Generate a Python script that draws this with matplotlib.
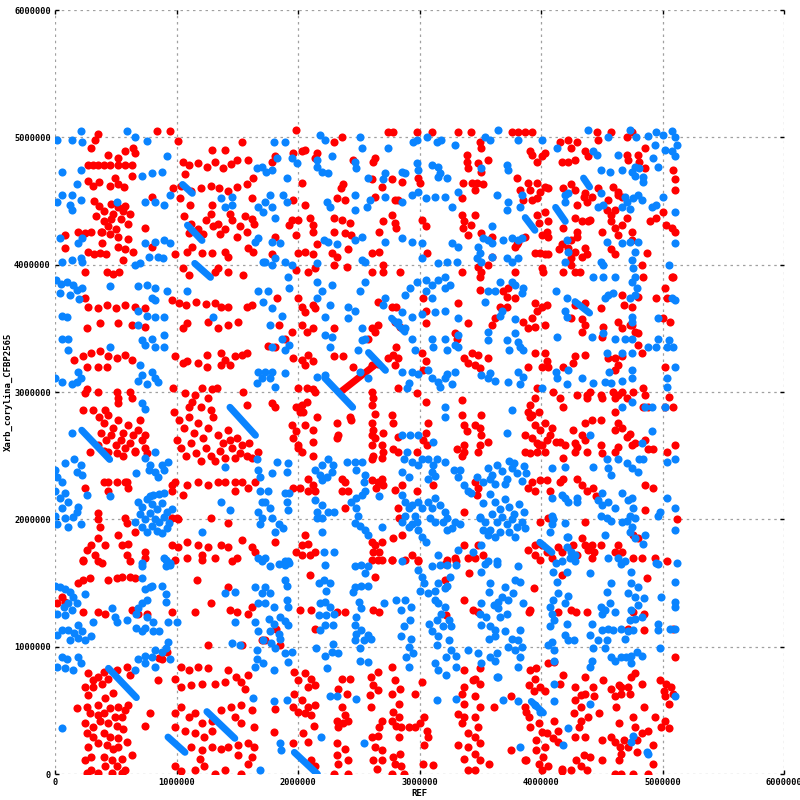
import matplotlib
matplotlib.use("Agg")
import matplotlib.pyplot as plt
import numpy as np

UNIT = 10000  # all coordinates below are in units of 10 kb

red_top = [
(35,503),(33,498),(30,492),(64,492),(66,488),(58,489),(84,505),(95,505),(101,497),
(27,478),(31,478),(35,478),(40,478),(45,478),(52,478),(58,478),(63,478),(44,486),(52,484),
(27,466),(31,462),(36,465),(45,462),(52,463),(57,461),(63,470),(49,468),
(32,450),(36,446),(40,442),(46,448),(52,445),(58,446),(62,440),(34,438),(40,434),(46,436),(54,436),(60,432),(44,430),(50,428),(38,426),(56,442),(48,440),
(8,423),(8,413),(19,426),(25,425),(30,426),(39,426),(45,424),(52,422),(60,420),
(27,410),(32,408),(37,409),(42,408),(52,414),(58,412),(64,410),(56,404),(39,417),(80,414),(74,429),(80,453),
(129,490),(140,490),(154,496),(105,481),(110,478),(118,480),(125,477),(132,481),(138,476),(145,479),(150,482),(159,482),(107,471),
(97,460),(104,462),(112,458),(120,460),(128,462),(135,460),(142,458),(150,461),(158,463),(163,468),
(103,452),(111,447),(129,447),(162,452),
(106,438),(112,432),(118,428),(124,435),(128,440),(134,432),(140,428),(146,435),(152,430),(158,426),(164,432),(110,425),(122,424),(136,424),(150,422),(162,436),(130,430),(144,440),(156,438),
(121,409),(129,409),(109,410),(113,414),(99,408),(140,410),(142,406),(159,413),(163,410),
(105,397),(110,392),(132,394),(142,394),(155,392),(134,397),
(25,394),(43,394),(48,393),(53,394),(27,367),(35,366),(43,368),(50,366),(58,368),(66,367),(74,366),(25,374),(26,350),(37,354),(52,354),(63,353),(74,351),
(96,372),(102,370),(108,368),(116,371),(124,369),(132,370),(137,367),(142,367),(158,367),(162,368),(109,354),(126,355),(134,350),(142,353),(151,355),(105,350),
(198,506),(203,489),(196,488),(181,485),(179,481),(230,496),(236,500),(274,504),(278,504),(298,504),(310,504),(332,504),(342,504),(216,488),(214,484),(206,490),(245,482),(262,481),(263,484),(339,486),(339,481),(340,476),
(203,464),(196,451),(206,447),(237,463),(235,460),(232,452),(239,451),(261,467),(269,461),(263,453),(277,467),(286,465),(299,468),(300,464),(280,451),(282,451),(335,452),(336,464),(343,464),
(195,435),(193,431),(200,435),(210,437),(212,431),(212,426),(198,423),(230,437),(236,435),(243,433),(230,426),(239,425),(244,423),(270,434),(267,426),(277,439),(280,433),(281,429),(302,435),(305,430),(335,439),(337,434),(336,429),(342,431),(340,423),(181,422),
(200,409),(206,410),(212,408),(179,408),(228,409),(232,406),(216,416),(241,412),(261,409),(267,410),(306,409),
(230,400),(240,398),(261,394),(270,400),(270,394),(284,394),(198,396),(208,394),(214,397),(335,394),
(183,374),(200,374),(203,367),(212,368),(214,366),(206,363),(266,371),(277,367),(281,367),(303,374),(305,364),(332,370),(340,354),
(184,353),(195,347),(203,353),(212,350),(207,347),(189,342),(230,350),(261,350),(266,353),(263,347),(258,342),(280,355),(284,351),(305,354),(331,342),(329,346),
(350,496),(351,492),(376,504),(381,504),(387,504),(393,504),(416,496),(422,498),(425,492),(430,496),(446,504),(447,498),(458,504),(471,500),(475,504),(486,492),
(393,486),(397,481),(401,485),(391,489),(403,488),(348,480),(356,482),(351,473),(417,481),(422,481),(428,482),(436,489),(439,485),(471,486),(472,482),(480,486),(481,481),(486,476),(509,474),(510,467),(510,459),
(380,468),(383,459),(389,464),(397,464),(403,461),(406,460),(391,459),(399,457),(347,464),(352,463),(346,459),
(418,460),(425,463),(428,459),(436,456),(442,453),(447,460),(459,461),(463,457),(463,455),(467,453),(385,451),(393,451),(397,452),
(430,447),(438,449),(435,453),(455,451),(454,443),(458,439),(461,443),
(397,439),(403,441),(406,434),(398,433),(405,426),(401,423),(406,422),(428,437),(434,434),(439,434),(440,435),
(458,434),(461,429),(467,431),(463,423),(471,437),(475,426),(475,419),(490,434),(495,437),(500,441),(503,431),(508,429),(510,426),(346,439),(351,425),(360,422),
(381,418),(387,422),(379,414),(380,416),(418,429),(430,426),(430,422),(425,419),(417,416),(422,413),(415,412),(450,426),
(395,409),(399,409),(403,408),(406,408),(436,413),(438,408),(428,410),(425,405),(434,406),(458,412),(461,408),(487,409),
(348,398),(351,394),(350,390),(356,400),(360,406),(379,394),(401,397),(402,394),(425,400),(428,394),(432,394),(418,394),(483,400),(484,390),(508,390),
(350,380),(369,379),(372,375),(373,382),(379,374),(362,358),(366,367),(372,367),(360,353),(395,370),(401,367),(405,368),(397,364),(428,368),(436,370),(449,366),
(467,376),(468,368),(475,367),(480,375),(475,353),(477,347),(495,374),(502,382),(504,374),(509,390),
(385,355),(389,350),(395,351),(403,353),(393,358),(425,358),(434,357),(436,353),(434,347),(463,355),(467,350),(473,353),(480,346),(451,351),(450,343),(500,358),(506,355),
]

red_mid = [
(16,325),(23,328),(30,331),(37,332),(44,328),(51,327),(58,329),(63,325),(35,320),(43,320),(26,320),
(99,328),(105,323),(109,324),(118,323),(125,329),(125,320),(137,331),(140,325),(148,328),(154,329),(158,331),(137,321),(144,321),
(26,302),(25,299),(35,300),(51,300),(52,295),(52,291),(62,300),(63,295),(23,286),(31,286),(41,286),
(36,280),(40,276),(44,282),(48,272),(52,278),(56,268),(60,274),(64,266),(68,270),(72,262),(38,268),(42,262),(50,258),(58,256),(62,260),(66,254),(74,256),(46,266),(54,262),(40,254),(56,250),(70,278),
(29,253),(35,258),(44,253),(51,252),(66,253),(74,266),(76,252),
(40,229),(44,229),(51,229),(58,229),(60,225),(59,229),(44,222),(25,225),
(97,303),(107,299),(115,298),(121,303),(129,302),(133,303),(126,295),(113,292),(155,300),(158,290),
(98,284),(102,278),(106,272),(110,280),(114,268),(118,276),(122,264),(126,272),(130,280),(134,266),(138,260),(142,270),(146,256),(150,264),(154,258),(158,250),(100,262),(104,256),(108,250),(112,260),(116,252),(120,246),(124,256),(128,250),(132,246),(136,254),(140,248),(144,262),(148,248),(152,252),(160,260),(162,248),(110,288),(120,288),(128,286),(167,253),
(96,222),(105,219),(109,227),(118,229),(126,227),(134,229),(140,229),(148,229),(154,229),(159,225),(148,222),(165,229),(99,229),(96,227),
(35,205),(35,200),(37,194),(58,201),(59,197),(100,201),(128,201),(142,197),(96,201),(101,200),
(35,185),(30,180),(26,176),(41,180),(33,172),(39,166),(52,188),(55,180),(60,181),(59,172),(66,190),(23,168),(74,174),(74,170),
(96,180),(101,178),(109,182),(118,180),(126,178),(137,180),(142,178),(154,184),(162,178),(150,170),(121,172),(132,170),(109,170),(165,174),
(181,335),(175,336),(196,327),(203,325),(208,329),(212,324),(206,321),(230,328),(237,328),(245,320),
(261,321),(266,322),(274,327),(278,329),(281,335),(282,327),(280,321),(302,331),(305,324),(303,317),(337,327),(340,323),(343,331),
(200,303),(207,303),(212,302),(214,300),(179,291),(181,288),(198,288),(203,290),(207,292),(204,284),(202,284),(216,280),
(195,274),(198,269),(196,264),(200,258),(203,253),(212,250),(206,274),(212,270),(212,261),(200,256),
(232,276),(233,266),(232,264),(243,280),(244,278),
(261,300),(262,295),(261,290),(263,283),(261,276),(262,270),(261,266),(263,264),(261,258),(262,250),(261,247),
(270,268),(269,258),(270,253),(269,248),(277,282),(278,276),(282,265),(278,255),(282,253),(282,303),(298,299),(305,292),
(307,276),(305,268),(303,262),(306,258),(298,253),(335,294),(335,282),(337,274),(339,269),(337,258),(331,255),(337,253),(335,250),
(208,232),(212,227),(208,222),(202,225),(196,225),(214,222),(236,232),(239,229),(241,222),(236,222),
(261,231),(266,229),(270,227),(264,225),(269,232),(280,223),(286,227),(298,222),(239,209),(282,209),(283,201),(311,227),(337,206),
(181,182),(206,188),(208,181),(203,180),(198,174),(203,172),(210,172),(214,174),
(261,182),(263,180),(269,182),(262,174),(267,174),(261,168),(269,168),(277,168),(278,185),(286,188),(294,172),(299,167),(323,168),(329,170),(337,180),(340,170),
(348,329),(356,327),(346,321),(350,319),(395,331),(403,331),(405,324),(401,320),(406,320),(389,320),(418,320),(428,328),(436,329),(426,323),
(455,327),(461,327),(463,321),(461,317),(467,328),(480,337),(483,331),(502,320),
(397,303),(395,295),(391,290),(389,284),(393,282),(398,284),(410,300),(416,295),(418,288),(430,298),(438,298),(438,295),(440,300),(449,298),(450,295),
(459,300),(461,295),(463,298),(467,300),(471,295),(476,300),(484,303),(486,298),(484,288),(488,288),(505,296),(509,288),(502,288),(351,282),
(391,280),(395,274),(399,270),(403,276),(407,266),(393,264),(397,260),(401,258),(405,262),(409,272),
(346,274),(350,272),(351,266),(356,261),(350,258),(348,253),(387,266),(387,253),(391,252),(397,253),(403,253),(398,258),
(412,261),(416,261),(420,258),(418,248),(426,270),(428,260),(428,253),(430,257),(436,262),(434,266),(438,253),(436,276),(442,278),(449,278),(449,258),(450,252),
(461,284),(463,276),(461,270),(467,272),(471,265),(473,267),(475,258),(463,257),(461,253),(477,260),(486,262),(488,255),(492,255),(504,253),(510,258),
(393,229),(399,231),(389,225),(395,222),(405,231),(416,229),(418,232),(407,222),(430,232),(434,227),(438,222),(443,225),(445,218),(346,229),(348,225),(347,219),(486,227),(492,225),(486,207),
(399,198),(406,201),(436,198),(476,188),(480,185),(512,200),
(389,176),(395,180),(401,180),(395,172),(405,174),(399,168),(409,170),(414,178),(417,174),
(426,180),(434,185),(436,180),(439,176),(442,180),(444,174),(430,172),(442,170),(449,180),
(463,180),(461,174),(467,174),(476,170),(483,170),(494,170),(504,167),(348,180),(352,172),(346,170),
]

red_bot = [
(6,139),(8,135),(2,134),
(23,167),(35,167),(62,167),(99,168),(121,168),(146,167),
(19,150),(23,152),(29,154),(44,152),(51,154),(55,155),(62,155),(66,154),(117,152),
(35,127),(41,126),(23,127),(63,129),(68,126),(76,126),(96,127),(128,134),(115,127),
(142,147),(144,129),(150,127),(159,126),(162,131),(92,96),(86,91),(88,90),(126,101),(154,101),(170,105),
(27,79),(31,74),(35,76),(40,80),(44,75),(39,71),(31,68),(25,68),(27,62),(41,60),(48,64),(51,82),(59,84),(62,78),
(18,52),(26,53),(29,48),(35,54),(35,46),(40,48),(45,52),(52,53),(58,50),(60,54),(55,45),(49,45),(25,40),(31,37),(37,42),(44,40),(51,38),(56,35),(26,32),(31,29),(40,32),(45,29),(52,28),(27,21),(35,24),(43,23),(48,20),(52,21),(59,25),(25,11),(30,13),(40,13),(47,11),(55,12),(63,15),(30,3),(41,6),(51,6),(58,3),(26,1),(35,1),(47,1),(55,1),(78,48),(74,38),(85,74),
(104,84),(110,82),(118,84),(126,83),(142,82),(149,76),(159,78),(99,75),(104,68),(112,70),(121,71),(132,71),(140,72),(153,72),(156,67),(104,53),(99,48),(110,45),(115,48),(121,40),(129,42),(137,50),(145,53),(153,54),(162,50),(164,37),(153,40),(148,45),(99,37),(107,34),(115,32),(123,29),(129,34),(142,21),(151,23),(159,24),(164,21),(112,21),(121,19),(129,21),(137,20),(151,15),(162,13),(99,6),(104,2),(115,3),(123,6),(132,0),(140,3),(153,0),(159,8),(119,12),
(210,156),(263,155),(202,129),(211,129),(232,127),(239,127),(262,129),(267,127),(214,114),(182,114),(185,101),(173,105),(321,152),(322,125),(337,137),(344,129),(341,158),(266,168),(277,168),(288,168),(299,168),(321,165),(330,167),
(197,80),(206,79),(211,75),(200,74),(208,68),(214,70),(197,63),(203,58),(196,53),(200,49),(208,53),(214,54),(206,48),(211,46),
(236,75),(243,75),(233,67),(240,63),(236,53),(239,46),(232,42),(237,40),(233,37),(241,42),
(260,76),(266,80),(262,70),(259,62),(266,66),(260,53),(269,42),(267,37),(266,30),(261,29),(263,21),(269,19),(262,11),(269,11),(265,4),
(277,84),(280,74),(284,67),(277,63),(283,55),(278,49),(283,45),(277,42),(281,38),(285,37),(291,37),(296,37),(300,40),(304,45),(306,34),(307,29),(283,29),(278,13),(284,16),(280,8),(285,6),(277,0),(287,0),
(302,72),(296,63),(232,24),(239,20),(232,15),(233,8),(241,11),(230,0),(241,0),
(180,33),(181,51),(213,38),(208,25),(204,32),(196,24),(211,11),(214,6),(303,8),(311,7),(304,23),
(337,68),(335,63),(337,55),(332,47),(337,45),(335,40),(340,32),(332,23),(340,21),(337,12),(340,3),(344,74),(337,82),
(417,156),(394,146),(348,127),(390,127),(391,129),(414,127),(425,129),(429,127),(438,127),(476,127),(485,126),(487,154),(485,113),(509,114),(472,114),(510,92),
(350,83),(346,75),(350,71),(346,61),(350,53),(346,45),(348,37),(346,29),(350,24),(346,16),(350,11),(346,3),(357,8),(361,53),
(391,82),(396,83),(395,75),(390,70),(399,68),(403,65),(394,65),(406,87),(411,88),(418,78),(416,71),(387,53),(390,45),(391,37),(398,40),(401,33),(396,27),(405,32),(411,42),(414,34),(410,28),(414,25),(396,19),(403,21),(402,13),(398,8),(401,3),(387,11),(406,6),(417,4),(375,61),(375,19),(388,49),
(428,68),(436,76),(443,68),(428,58),(433,53),(427,48),(433,42),(439,45),(444,61),(431,37),(428,29),(436,29),(440,13),(435,15),(429,11),(433,6),(425,3),(438,3),(450,11),(450,27),(448,48),(464,11),(461,0),(466,0),(476,0),(458,29),(461,25),(468,27),(464,40),(462,53),(461,61),(458,67),(464,70),(472,68),(473,63),(474,76),(477,79),(483,71),(485,53),(488,34),(476,45),(477,37),(483,32),(492,23),(494,45),(498,74),(501,65),(503,71),(507,68),(509,63),(502,61),(505,55),(502,42),(505,36),(499,37),(492,8),(488,0),(466,16),(465,21),(472,21),(479,17),(479,27),(466,63),(466,68),(451,74),(436,63),(433,62),(417,2),(388,11),
]

blue_top = [
(21,505),(59,505),(2,498),(14,498),(22,496),(66,500),(76,497),(6,473),(21,474),(72,470),(80,472),(88,473),(92,485),
(18,463),(14,455),(6,455),(2,449),(12,447),(14,443),(21,451),(51,449),(4,421),(22,421),(19,417),
(74,417),(82,418),(90,419),(95,417),(6,402),(14,404),(21,405),(22,402),(66,400),(70,401),(77,406),(85,406),(89,405),(74,449),(82,449),(90,447),(95,455),
(166,476),(170,477),(137,452),(146,453),(146,447),(140,445),(167,445),(171,441),(165,418),(167,421),(171,402),
(1,388),(5,385),(10,386),(15,384),(18,380),(22,382),(4,378),(12,376),(20,373),(6,360),(10,359),(6,342),(11,342),(45,383),
(68,383),(76,384),(82,382),(80,374),(82,372),(92,379),(68,364),(76,360),(82,359),(90,359),(68,353),(72,341),(80,342),(90,345),
(109,379),(130,359),(167,379),(171,371),
(180,496),(189,496),(218,502),(222,498),(251,500),(253,492),(274,492),(295,496),(298,498),(306,500),(314,496),(318,498),(329,494),
(183,484),(195,484),(199,480),(179,474),(174,473),(216,482),(216,477),(220,473),(225,472),(228,485),(247,481),(248,476),(191,468),
(258,468),(270,467),(272,472),(286,473),(288,472),(298,480),(299,474),(310,478),(315,477),(317,472),(315,469),(323,468),
(177,455),(173,449),(179,445),(181,437),(188,455),(191,449),(224,449),(226,445),(247,455),(247,443),(257,445),(259,451),
(272,453),(286,449),(294,455),(299,457),(305,452),(313,453),(321,453),(327,445),(332,457),
(221,419),(225,418),(232,416),(247,419),(253,422),(272,418),(286,421),(294,418),(302,417),(327,417),(332,414),
(179,418),(185,417),(173,402),(181,405),(189,402),(195,400),(216,401),(253,404),(255,402),(302,405),(315,401),(323,402),(331,402),
(179,400),(192,390),(193,382),(216,386),(220,379),(228,384),(216,374),(226,368),(222,359),(175,379),(179,366),(187,360),(177,353),
(255,386),(251,379),(241,367),(247,364),(241,358),(253,350),(255,342),(272,374),(270,368),
(288,376),(292,382),(298,386),(305,388),(310,384),(315,388),(321,390),(305,379),(310,374),(321,382),(325,384),
(286,363),(294,359),(302,361),(313,363),(321,364),(332,358),(282,355),(288,350),(294,342),(310,342),(321,342),(332,345),
(187,342),(222,345),(228,343),(253,341),
(365,506),(381,498),(401,498),(413,492),(354,500),(358,498),(351,476),(439,506),(455,500),
(473,506),(478,500),(488,501),(495,504),(500,502),(508,505),(510,500),(512,494),(494,494),(508,489),(510,485),(502,490),(443,489),(446,486),(463,486),
(372,478),(373,474),(477,477),(481,476),(484,469),(477,470),(475,473),(484,465),(496,477),(492,484),(449,474),(457,473),(467,474),
(364,455),(373,449),(372,443),(384,455),(383,445),(420,455),(422,456),(420,449),(449,456),(451,447),(447,445),
(469,453),(471,449),(476,452),(480,455),(467,445),(473,444),(483,451),(491,445),(495,447),(500,453),(510,441),
(360,430),(352,421),(356,419),(360,417),(369,419),(376,421),(381,419),(384,421),(348,414),(350,409),(347,405),(351,402),(360,406),
(421,419),(422,410),(420,402),(454,418),(467,417),(473,418),(480,418),(477,410),(510,417),(372,405),(376,402),(381,405),(449,402),(451,400),(475,404),(476,397),(505,400),
(366,386),(376,386),(379,384),(356,379),(362,379),(354,371),(385,382),(384,378),
(443,390),(451,390),(461,390),(475,386),(477,390),(479,382),(473,374),(477,376),(455,376),(453,374),(459,378),
(412,379),(421,374),(508,374),(510,372),(368,364),(366,360),(379,357),(379,346),(381,339),(420,364),(421,359),(475,359),(475,355),(496,358),
(356,347),(356,341),(372,341),(413,343),(442,343),(451,346),(461,342),(469,342),(475,342),(496,342),(505,341),
]

blue_mid = [
(11,333),(45,335),(74,337),(82,335),(90,335),(0,311),(6,308),(14,306),(18,308),(21,311),(19,316),
(70,321),(72,313),(68,309),(76,306),(82,311),(85,308),(80,316),(72,291),(74,287),(167,316),(170,311),(166,307),(14,268),
(8,244),(0,239),(2,233),(6,229),(16,247),(21,243),(18,237),(22,235),
(74,248),(82,253),(78,243),(82,237),(88,243),(93,245),(85,233),(77,239),(90,239),(67,236),
(0,222),(4,217),(8,221),(11,214),(6,209),(0,203),(8,201),(15,202),(18,206),(2,196),(11,194),(21,196),(19,210),(26,219),(45,218),
(68,214),(72,210),(76,216),(80,212),(84,208),(88,213),(92,206),(70,204),(74,200),(78,205),(82,200),(86,198),(90,202),(94,197),(72,194),(76,190),(80,195),(84,191),(88,189),(92,193),(78,218),(86,220),(66,198),(96,208),
(81,219),(90,221),(121,190),(137,214),(144,207),(169,222),(170,214),(167,206),(170,201),(169,196),(166,247),(167,239),(169,233),(140,241),(90,170),(95,166),(72,166),(167,170),(170,167),
(179,335),(189,333),(193,337),(226,335),(249,333),(296,333),(311,335),(323,333),(332,335),(329,337),
(173,316),(179,316),(177,311),(181,304),(189,315),(216,312),(222,313),(251,316),(258,311),
(286,316),(294,316),(299,314),(291,307),(290,303),(307,317),(310,311),(315,308),(321,311),(323,314),(329,316),(317,304),(327,306),
(321,288),(321,280),(286,266),(292,266),(299,266),(311,261),
(183,245),(179,236),(192,244),(191,237),(214,239),(220,243),(225,247),(228,237),(218,235),(220,231),(224,233),(229,243),
(240,245),(247,245),(253,245),(248,239),(255,235),(254,229),(286,237),(291,233),(287,247),(290,253),
(294,245),(299,243),(302,247),(307,247),(311,243),(314,247),(321,245),(310,237),(307,232),(313,234),(328,239),(333,239),(332,233),(337,227),(340,222),(342,221),
(175,222),(173,214),(177,209),(179,201),(184,196),(188,193),(181,190),(189,221),(193,221),(191,214),(192,207),
(214,215),(220,211),(216,206),(220,201),(225,206),(230,206),(216,201),
(244,214),(248,217),(253,219),(255,222),(248,209),(249,203),(247,197),(251,195),(255,192),(258,188),(267,218),
(286,219),(288,214),(291,209),(294,211),(299,214),(302,209),(296,203),(288,203),(286,198),(291,194),(294,196),(298,198),(299,192),(302,186),(305,182),(269,194),
(307,214),(313,217),(310,209),(317,211),(321,206),(309,201),(313,198),(319,198),(323,201),(329,198),(327,193),(323,192),(333,196),
(220,190),(221,174),(230,174),(173,170),(189,167),(193,166),(286,167),(315,172),(332,176),(344,174),
(374,333),(383,335),(385,333),(454,331),(467,331),(475,331),(488,335),(495,335),(504,335),(509,335),
(351,313),(356,311),(362,309),(358,315),(373,308),(383,306),(381,316),(385,312),(412,316),(413,311),(421,306),(422,317),(434,311),(443,307),
(453,308),(456,316),(458,307),(467,309),(475,317),(475,311),(504,311),(504,304),(510,320),(401,303),(376,286),
(467,288),(475,292),(486,288),(491,288),(502,288),(372,268),(440,266),(483,260),(491,269),
(454,247),(455,240),(458,235),(463,247),(471,244),(475,240),(481,247),(484,247),(480,237),(443,241),(504,245),(510,247),(409,240),(420,241),
(356,240),(360,235),(364,243),(368,238),(372,232),(376,240),(380,236),(384,230),(362,228),(370,228),(378,244),(386,242),(358,232),(374,246),(388,236),(347,233),(352,229),
(358,220),(362,214),(366,208),(370,216),(374,210),(378,204),(382,212),(386,206),(360,204),(364,198),(368,202),(372,196),(376,200),(380,194),(384,198),(366,190),(354,198),(358,192),(362,186),(374,190),(350,202),
(352,213),(350,201),(352,192),(356,188),(351,180),(364,167),(356,167),(379,186),(387,193),
(409,217),(409,203),(409,196),(407,190),(410,200),(417,219),(420,217),(422,214),(420,197),(422,186),(430,217),(430,214),(450,221),(467,221),
(447,215),(450,211),(455,214),(461,209),(449,203),(454,201),(458,199),(467,198),(471,199),
(472,215),(475,217),(476,209),(473,203),(477,201),(475,194),(473,190),(496,203),(498,206),(504,217),(510,209),(510,192),
(421,186),(453,188),(477,185),(486,188),(484,181),(421,178),(425,174),(428,172),(424,170),(428,167),(455,170),(463,170),(469,167),(495,166),(512,166),(417,167),(412,166),
]

blue_bot = [
(0,148),(4,147),(8,145),(12,143),(15,139),(18,134),(11,134),(7,131),(2,126),(8,125),(14,129),
(25,141),(31,119),(19,117),(22,112),(16,111),(11,113),(6,113),(2,109),(12,105),(19,107),(25,105),(30,108),
(6,92),(10,90),(2,84),(8,83),(15,82),(19,92),(21,87),(6,36),
(72,163),(72,154),(74,145),(78,147),(76,137),(72,134),(68,130),(67,126),(80,148),(88,148),(91,141),(91,135),(49,123),(51,119),(59,121),(47,130),
(76,123),(81,119),(74,115),(67,115),(72,112),(81,112),(86,112),(93,119),(100,119),(91,168),(95,164),(91,163),
(93,104),(91,99),(88,96),(82,97),(80,92),(74,93),(68,90),(74,87),(82,84),(66,82),(95,90),
(165,147),(170,142),(167,134),(165,119),(167,112),(171,105),(166,97),(166,90),(171,87),(165,84),
(140,142),(148,143),(148,119),(146,103),(152,101),(163,60),(169,3),
(177,163),(184,165),(189,164),(192,167),(173,147),(177,142),(173,134),(180,131),(189,152),(191,148),(191,137),(192,131),(185,123),(189,120),(192,117),
(176,122),(180,118),(177,112),(184,110),(185,106),(178,103),(181,99),(189,95),(195,96),(192,88),(180,82),
(222,164),(217,150),(221,152),(226,150),(223,144),(218,134),(222,135),(226,131),(217,125),(223,125),(230,126),(229,117),(222,117),(218,113),(215,99),(222,93),(228,96),(229,102),(233,95),(224,83),(226,61),(232,61),
(247,163),(252,164),(258,163),(255,158),(247,147),(252,148),(258,148),(245,143),
(250,135),(252,130),(248,123),(247,117),(248,110),(247,105),(254,105),(258,109),(260,106),(251,99),(252,113),(251,89),(258,88),(271,134),
(281,137),(288,137),(293,131),(285,129),(292,121),(287,116),(285,108),(293,106),(291,100),(289,92),(291,84),(295,95),(299,160),(302,155),(304,150),(300,144),(307,142),(313,137),(315,134),(321,131),(318,126),(310,163),(317,164),(323,164),(330,164),(325,155),(321,146),(313,144),(308,118),(314,121),(319,116),(310,112),(315,108),(314,101),(324,121),(326,116),(324,105),(326,97),(330,93),(322,92),(313,87),(315,82),(322,78),(330,84),(340,97),(315,150),(323,148),
(180,57),(191,58),(248,59),(219,29),(185,24),(186,19),(254,24),(314,58),(330,59),
(354,165),(364,165),(351,159),(358,150),(357,143),(370,147),(379,152),(383,151),(381,163),(377,142),(368,139),(365,135),(373,137),(361,133),(351,134),(350,126),(355,123),(351,117),(358,116),(366,123),(365,130),(372,126),(362,113),(357,106),(362,108),(370,112),(376,106),(381,105),(373,100),(379,97),(384,100),(383,92),(381,84),(364,95),(358,92),(348,95),(351,87),(365,76),(362,89),(385,134),(383,113),
(410,159),(421,159),(413,151),(414,142),(410,137),(407,131),(422,140),(420,134),(409,126),(411,121),(407,116),(421,118),(420,109),(422,105),(427,105),(409,104),(411,97),(406,101),
(440,158),(458,150),(454,143),(449,131),(453,129),(457,134),(461,127),(450,126),(442,118),(440,109),(450,113),(455,114),(459,113),(454,105),(447,105),(443,99),(453,99),(442,89),(440,84),
(466,165),(474,159),(474,150),(480,147),(472,142),(477,139),(485,138),(480,133),(474,129),(477,122),(473,121),(483,123),(466,114),(472,112),(476,113),(469,106),(466,92),(470,92),(474,93),(479,96),(483,93),(474,87),(458,92),(461,89),
(496,165),(510,151),(499,139),(510,135),(510,131),(496,118),(496,113),(506,114),(510,114),(498,99),
(411,89),(411,71),(440,55),(411,57),(399,49),(395,54),(381,57),(369,58),(364,76),(422,36),(418,23),(383,21),(476,30),(474,25),(487,17),(488,16),(510,61),
]

# aligned runs (start, end)
blue_runs = [
((22,270),(45,247)), ((144,288),(165,266)), ((105,463),(113,456)), ((109,431),(121,419)),
((115,401),(128,390)), ((258,331),(272,317)), ((222,311),(245,288)), ((277,358),(288,347)),
((435,468),(440,461)), ((412,445),(420,434)), ((387,437),(395,427)), ((428,371),(440,362)),
((44,83),(67,60)), ((125,49),(148,28)), ((93,29),(107,17)), ((197,17),(216,0)),
((399,182),(409,174)), ((392,57),(402,48)),
]
red_runs = [((235,300),(263,321))]

x_ticks = [0, 1000000, 2000000, 3000000, 4000000, 5000000, 6000000]
y_ticks = [0, 1000000, 2000000, 3000000, 4000000, 5000000, 6000000]
x_label = "REF"
y_label = "Xarb_corylina_CFBP2565"

RED = "#ff0000"
BLUE = "#0a84ff"

fig = plt.figure(figsize=(8, 8), dpi=100)
ax = fig.add_axes([55/800, 26/800, 729/800, 764/800])

def xy(pts):
    a = np.array(pts, dtype=float) * UNIT
    return a[:, 0], a[:, 1]

msize = 34
for pts in (red_top, red_mid, red_bot):
    x, y = xy(pts)
    ax.scatter(x, y, s=msize, c=RED, linewidths=0, zorder=3)
for (a, b) in red_runs:
    ax.plot([a[0]*UNIT, b[0]*UNIT], [a[1]*UNIT, b[1]*UNIT], color=RED, lw=5,
            solid_capstyle="round", zorder=3)
for pts in (blue_top, blue_mid, blue_bot):
    x, y = xy(pts)
    ax.scatter(x, y, s=msize, c=BLUE, linewidths=0, zorder=4)
for (a, b) in blue_runs:
    ax.plot([a[0]*UNIT, b[0]*UNIT], [a[1]*UNIT, b[1]*UNIT], color=BLUE, lw=5,
            solid_capstyle="round", zorder=4)

ax.set_xlim(0, 6000000)
ax.set_ylim(0, 6000000)
ax.set_xticks(x_ticks)
ax.set_yticks(y_ticks)
ax.set_xticklabels([str(v) for v in x_ticks])
ax.set_yticklabels([str(v) for v in y_ticks])
for s in ax.spines.values():
    s.set_visible(False)
ax.grid(True, color="#a0a0a0", linestyle=(0, (2, 3)), linewidth=0.9, zorder=0)
ax.set_axisbelow(True)
ax.tick_params(direction="in", length=3, width=1, color="black",
               top=True, right=True, labelsize=6.2, pad=3)
for lab in ax.get_xticklabels() + ax.get_yticklabels():
    lab.set_family("DejaVu Sans Mono")
    lab.set_fontweight("bold")

fig.text(419/800, 1 - 793/800, x_label, ha="center", va="center",
         family="DejaVu Sans Mono", fontweight="bold", fontsize=6.5)
fig.text(8/800, 1 - 392/800, y_label, ha="center", va="center", rotation=90,
         family="DejaVu Sans Mono", fontweight="bold", fontsize=6.5)

fig.savefig("out.png", dpi=100)
